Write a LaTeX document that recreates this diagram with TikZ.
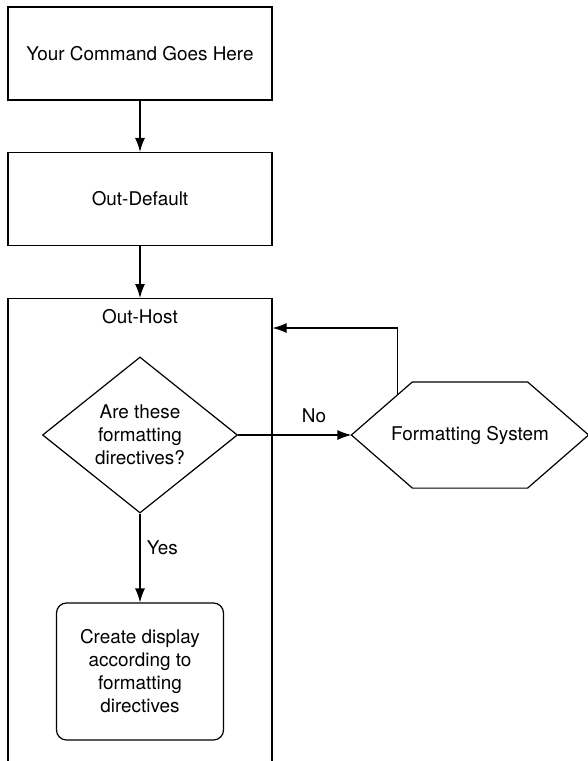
\documentclass[tikz,border=0pt]{standalone}
\usepackage{fontspec}
\setmainfont{TeX Gyre Heros}
\usetikzlibrary{shapes.geometric}
\usetikzlibrary{arrows.meta}
\usetikzlibrary{calc}

\begin{document}
\begin{tikzpicture}[x=1pt, y=-1pt, line width=1.2pt, >={Latex[length=14pt,width=10pt]},
		every node/.style={font=\fontsize{18.9}{23}\selectfont, align=center},
		stepbox/.style={draw, minimum width=264pt, minimum height=93pt},
		hostbox/.style={draw, anchor=north, minimum width=264pt, minimum height=520pt},
		decision/.style={draw, diamond, aspect=1.25, inner sep=2pt, minimum width=195pt, minimum height=156pt},
		hexbox/.style={minimum width=236pt, minimum height=105pt},
		displaybox/.style={draw, rounded corners=10pt, minimum width=167pt, minimum height=137pt}]
		\useasboundingbox (0,0) rectangle (588,761);
		\node[stepbox] (cmd) at (140,53.5) {Your Command Goes Here};
		\node[stepbox] (outdef) at (140,199) {Out-Default};
		\node[hostbox] (host) at (140,298) {};
		\node[below=7pt] (hostname) at (host.north) {Out-Host};
		\node[decision] (dirs) at (140,435) {Are these\\formatting\\directives?};
		\node[hexbox] (fmtsys) at (470,435) {Formatting System};
		\draw (fmtsys.west) -- ($(fmtsys.north west)+(61,0)$) -- ($(fmtsys.north east)+(-61,0)$) -- (fmtsys.east)
			-- ($(fmtsys.south east)+(-61,0)$) -- ($(fmtsys.south west)+(61,0)$) -- cycle;
		\node[displaybox] (display) at (140,671.5) {Create display\\according to\\formatting\\directives};
%		
		\draw [->] (cmd) -- (outdef);
		\draw [->] (outdef) -- (host);
		\draw [->] (dirs) -- (fmtsys) node[above=8pt, pos=.67] {No};
		\draw [->] (dirs) -- (display) node[right=3pt, pos=.38] {Yes};
		\draw [->] ($(fmtsys.west)+(46,-40)$) |- ($(host.north east)+(0,30)$); % back to Out-Host
\end{tikzpicture}
\end{document}
